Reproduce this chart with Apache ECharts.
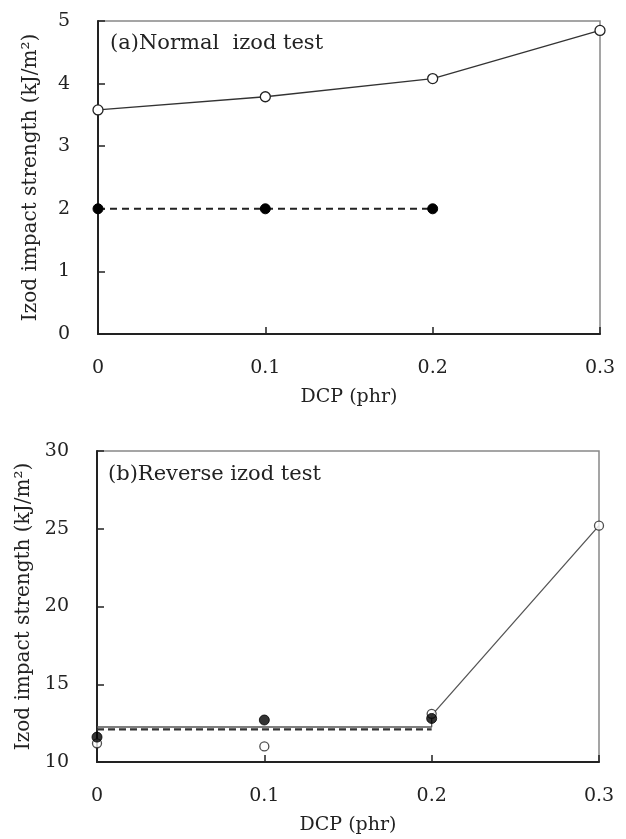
<!DOCTYPE html>
<html>
<head>
<meta charset="utf-8">
<script src="https://cdn.jsdelivr.net/npm/echarts@6/dist/echarts.min.js"></script>
<style>html,body{margin:0;padding:0;background:#fff}#c{width:626px;height:839px}</style>
</head>
<body>
<div id="c"></div>
<script>
// ---- data ----
var dcp = [0, 0.1, 0.2, 0.3];
var xTicks = ['0', '0.1', '0.2', '0.3'];
var normalOpen = [3.58, 3.79, 4.08, 4.85];
var normalFilled = [2.0, 2.0, 2.0];
var reverseOpen = [11.2, 11.0, 13.1, 25.2];
var reverseFilled = [11.6, 12.7, 12.8];
var reverseOpenTrendX = [0, 0.2, 0.2, 0.3];
var reverseOpenTrendY = [12.25, 12.25, 13.0, 25.2];
var reverseFilledTrendX = [0, 0.2];
var reverseFilledTrendY = [12.1, 12.1];
var panelTitles = ['(a)Normal  izod test', '(b)Reverse izod test'];
var yName = 'Izod impact strength (kJ/m\u00b2)';
var xName = 'DCP (phr)';

function pairs(xs, ys) { return ys.map(function (v, i) { return [xs[i], v]; }); }

var FONT = 'DejaVu Serif';
var txt = '#222';

function xAxis(gi) {
  return {
    type: 'value', gridIndex: gi, min: 0, max: 0.3, interval: 0.1,
    name: xName, nameLocation: 'middle', nameGap: 54,
    nameTextStyle: { fontFamily: FONT, fontSize: 19, color: txt },
    axisLine: { show: true, lineStyle: { color: '#222', width: 2 } },
    axisTick: { show: true, inside: true, length: 7, lineStyle: { color: '#222', width: 1.5 } },
    axisLabel: { margin: 25, fontFamily: FONT, fontSize: 19, color: txt,
      formatter: function (v) { var i = Math.round(v * 10); return xTicks[i]; } },
    splitLine: { show: false }
  };
}
function yAxis(gi, min, max, interval) {
  return {
    type: 'value', gridIndex: gi, min: min, max: max, interval: interval,
    name: yName, nameLocation: 'middle', nameGap: 57,
    nameTextStyle: { fontFamily: FONT, fontSize: 20, color: txt },
    axisLine: { show: true, lineStyle: { color: '#222', width: 2 } },
    axisTick: { show: true, inside: true, length: 7, lineStyle: { color: '#222', width: 1.5 } },
    axisLabel: { margin: 28, fontFamily: FONT, fontSize: 19, color: txt },
    splitLine: { show: false }
  };
}

var openStyle = { color: '#fff', borderColor: '#222', borderWidth: 1.3 };
var filledStyle = { color: '#000', borderColor: '#000', borderWidth: 1 };

var option = {
  animation: false,
  backgroundColor: '#fff',
  title: [
    { text: panelTitles[0], left: 105, top: 28, textStyle: { fontFamily: FONT, fontSize: 21, fontWeight: 'normal', color: txt } },
    { text: panelTitles[1], left: 103, top: 459, textStyle: { fontFamily: FONT, fontSize: 21, fontWeight: 'normal', color: txt } }
  ],
  grid: [
    { left: 98, right: 26, top: 21, height: 313, show: true, borderColor: '#888', borderWidth: 1.5 },
    { left: 97, right: 27, top: 451, height: 311, show: true, borderColor: '#888', borderWidth: 1.5 }
  ],
  xAxis: [xAxis(0), xAxis(1)],
  yAxis: [yAxis(0, 0, 5, 1), yAxis(1, 10, 30, 5)],
  series: [
    { type: 'line', xAxisIndex: 0, yAxisIndex: 0, clip: false, z: 3,
      data: pairs(dcp, normalFilled), symbol: 'circle', symbolSize: 10,
      lineStyle: { color: '#222', width: 2, type: [7, 5] }, itemStyle: filledStyle },
    { type: 'line', xAxisIndex: 0, yAxisIndex: 0, clip: false, z: 4,
      data: pairs(dcp, normalOpen), symbol: 'circle', symbolSize: 10,
      lineStyle: { color: '#333', width: 1.3 }, itemStyle: openStyle },
    { type: 'line', xAxisIndex: 1, yAxisIndex: 1, clip: false, z: 2,
      data: pairs(reverseOpenTrendX, reverseOpenTrendY), symbol: 'none',
      lineStyle: { color: '#555', width: 1.3 } },
    { type: 'line', xAxisIndex: 1, yAxisIndex: 1, clip: false, z: 2,
      data: pairs(reverseFilledTrendX, reverseFilledTrendY), symbol: 'none',
      lineStyle: { color: '#333', width: 2.2, type: [7, 4] } },
    { type: 'scatter', xAxisIndex: 1, yAxisIndex: 1, clip: false, z: 4,
      data: pairs(dcp, reverseOpen), symbol: 'circle', symbolSize: 9,
      itemStyle: openStyle },
    { type: 'scatter', xAxisIndex: 1, yAxisIndex: 1, clip: false, z: 5,
      data: pairs(dcp, reverseFilled), symbol: 'circle', symbolSize: 10,
      itemStyle: filledStyle }
  ]
};
echarts.init(document.getElementById('c'), null, { renderer: 'canvas' }).setOption(option);
</script>
</body>
</html>
